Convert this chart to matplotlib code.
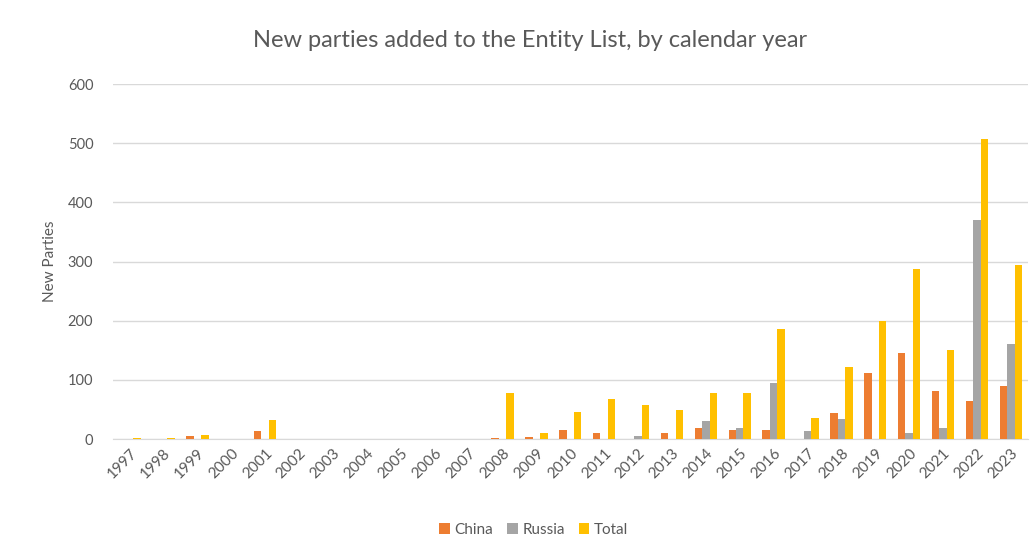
import matplotlib.pyplot as plt
import numpy as np

years = [str(y) for y in range(1997, 2024)]
china = [0, 0, 5, 0, 13, 0, 0, 0, 0, 0, 0, 2, 3, 16, 10, 0, 10, 19, 16, 16, 0, 44, 111, 146, 81, 65, 89]
russia = [0, 0, 0, 0, 0, 0, 0, 0, 0, 0, 0, 0, 0, 0, 0, 5, 0, 30, 19, 95, 13, 33, 0, 10, 19, 370, 160]
total = [2, 2, 6, 0, 32, 0, 0, 0, 0, 0, 0, 77, 11, 46, 68, 57, 49, 78, 78, 186, 36, 122, 199, 288, 151, 508, 294]

plt.rcParams['font.family'] = ['Lato', 'DejaVu Sans']
txt = '#595959'

fig = plt.figure(figsize=(10.34, 5.39), dpi=100)
ax = fig.add_axes([0.109, 0.1855, 0.885, 0.6585])

x = np.arange(len(years))
w = 0.22
ax.bar(x - w, china, w, color='#ED7D31', label='China', zorder=3)
ax.bar(x, russia, w, color='#A5A5A5', label='Russia', zorder=3)
ax.bar(x + w, total, w, color='#FFC000', label='Total', zorder=3)

ax.set_xlim(-0.5, len(years) - 0.5)
ax.set_ylim(0, 600)
ax.set_yticks(range(0, 601, 100))
ax.yaxis.grid(True, color='#D9D9D9', linewidth=1, zorder=0)
for s in ['top', 'right', 'left']:
    ax.spines[s].set_visible(False)
ax.spines['bottom'].set_color('#D9D9D9')
ax.tick_params(axis='both', length=0, colors=txt)
ax.tick_params(axis='y', pad=14, labelsize=10.5)
ax.tick_params(axis='x', pad=5, labelsize=11)
ax.set_xticks(x)
ax.set_xticklabels(years, rotation=45, ha='right', rotation_mode='anchor')
ax.set_ylabel('New Parties', color=txt, fontsize=11, labelpad=8)

fig.text(0.513, 0.925, 'New parties added to the Entity List, by calendar year',
         ha='center', va='center', fontsize=17, color=txt)

ax.legend(loc='center', bbox_to_anchor=(0.46, -0.255), ncol=3, frameon=False,
          fontsize=11, labelcolor=txt, handlelength=0.7, handleheight=0.7,
          handletextpad=0.3, columnspacing=0.9)

fig.savefig('out.png', dpi=100, facecolor='white')
